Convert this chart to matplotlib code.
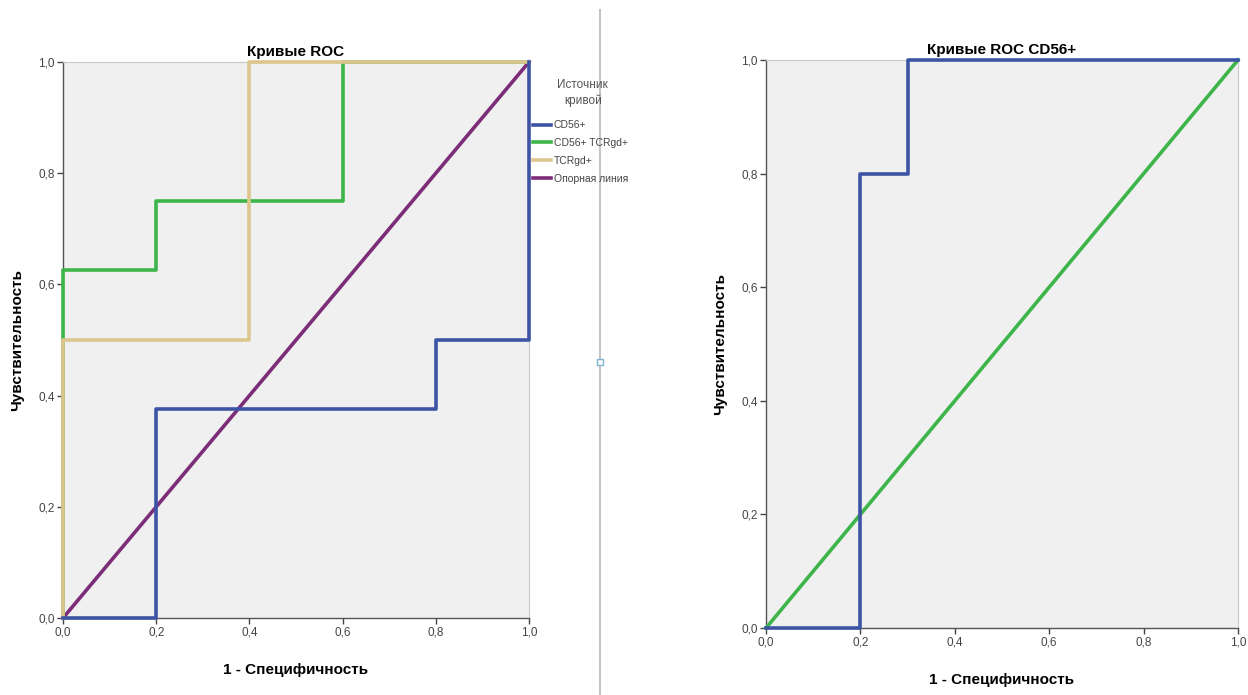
import matplotlib
matplotlib.use("Agg")
import matplotlib.pyplot as plt
from matplotlib.lines import Line2D
from matplotlib.ticker import FuncFormatter

plt.rcParams['font.family'] = ['Liberation Sans', 'DejaVu Sans']

# ROC step curves (1 - specificity, sensitivity)
cd56_fpr = [0.0, 0.2, 0.2, 0.8, 0.8, 1.0, 1.0]
cd56_tpr = [0.0, 0.0, 0.375, 0.375, 0.5, 0.5, 1.0]

cd56_tcr_fpr = [0.0, 0.0, 0.2, 0.2, 0.6, 0.6, 1.0]
cd56_tcr_tpr = [0.0, 0.625, 0.625, 0.75, 0.75, 1.0, 1.0]

tcr_fpr = [0.0, 0.0, 0.4, 0.4, 1.0]
tcr_tpr = [0.0, 0.5, 0.5, 1.0, 1.0]

ref_line = [0.0, 1.0]

cd56_only_fpr = [0.0, 0.2, 0.2, 0.3, 0.3, 1.0]
cd56_only_tpr = [0.0, 0.0, 0.8, 0.8, 1.0, 1.0]

ticks = [0.0, 0.2, 0.4, 0.6, 0.8, 1.0]

BLUE = '#3d54a5'
GREEN = '#3db54a'
TAN = '#dcc68e'
PURPLE = '#7b2d78'
BG = '#f0f0f0'
LW = 2.6

fig = plt.figure(figsize=(12.48, 6.95), dpi=100)

comma = FuncFormatter(lambda v, p: f"{v:.1f}".replace('.', ','))


def style(ax, title):
    ax.set_facecolor(BG)
    ax.set_xlim(0, 1)
    ax.set_ylim(0, 1)
    ax.set_xticks(ticks)
    ax.set_yticks(ticks)
    ax.xaxis.set_major_formatter(comma)
    ax.yaxis.set_major_formatter(comma)
    ax.tick_params(labelsize=8.5, colors='#444444', length=4, width=1, pad=2)
    for s in ('top', 'right'):
        ax.spines[s].set_color('#c8c8c8')
        ax.spines[s].set_linewidth(0.8)
    for s in ('left', 'bottom'):
        ax.spines[s].set_color('#555555')
        ax.spines[s].set_linewidth(1.0)
    ax.set_title(title, fontsize=11, fontweight='bold', pad=4)
    ax.set_xlabel('1 - Специфичность', fontsize=11, fontweight='bold', labelpad=18)
    ax.set_ylabel('Чувствительность', fontsize=11, fontweight='bold', labelpad=10)


# Left panel: all markers
ax1 = fig.add_axes([0.0505, 0.1108, 0.3734, 0.80])
style(ax1, 'Кривые ROC')
ax1.plot(ref_line, ref_line, color=PURPLE, lw=LW, zorder=3, clip_on=False)
ax1.plot(cd56_tcr_fpr, cd56_tcr_tpr, color=GREEN, lw=LW, zorder=4, clip_on=False)
ax1.plot(tcr_fpr, tcr_tpr, color=TAN, lw=LW, zorder=5, clip_on=False)
ax1.plot(cd56_fpr, cd56_tpr, color=BLUE, lw=LW, zorder=6, clip_on=False)

handles = [
    Line2D([], [], color=BLUE, lw=LW),
    Line2D([], [], color=GREEN, lw=LW),
    Line2D([], [], color=TAN, lw=LW),
    Line2D([], [], color=PURPLE, lw=LW),
]
labels = ['CD56+', 'CD56+ TCRgd+', 'TCRgd+', 'Опорная линия']
fig.text(0.467, 0.866, 'Источник\nкривой', ha='center', va='center',
         multialignment='center', fontsize=8.5, color='#555555', linespacing=1.3)
leg = fig.legend(handles, labels, loc='upper left',
                 bbox_to_anchor=(0.427, 0.827), frameon=False, fontsize=7.5,
                 handlelength=1.7, handletextpad=0.3,
                 labelspacing=0.75, borderaxespad=0, borderpad=0)
for t in leg.get_texts():
    t.set_color('#444444')

# Separator between the two panels
fig.add_artist(Line2D([0.481, 0.481], [0.0, 0.985], color='#c4c4c4', lw=1.5,
                      transform=fig.transFigure))
fig.add_artist(Line2D([0.481], [0.479], marker='s', markersize=5,
                      markerfacecolor='white', markeredgecolor='#7fb4d0',
                      transform=fig.transFigure))

# Right panel: CD56+ alone
ax2 = fig.add_axes([0.6138, 0.0964, 0.3782, 0.8173])
style(ax2, 'Кривые ROC CD56+')
ax2.plot(ref_line, ref_line, color=GREEN, lw=LW, zorder=3, clip_on=False)
ax2.plot(cd56_only_fpr, cd56_only_tpr, color=BLUE, lw=LW, zorder=4, clip_on=False)

fig.savefig('out.png', dpi=100, facecolor='white')
